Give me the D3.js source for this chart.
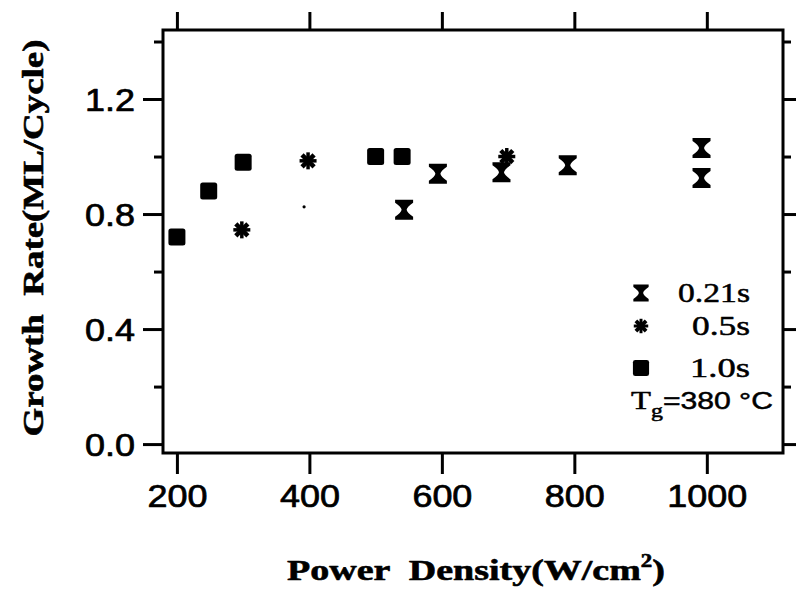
<!DOCTYPE html>
<html><head><meta charset="utf-8">
<script src="https://cdn.jsdelivr.net/npm/d3@7"></script>
<style>body{margin:0;background:#fff}svg{display:block}text{white-space:pre}</style>
</head><body><svg id="c" width="796" height="593"></svg>
<script>
// ---- data ----
const xTicks = [200, 400, 600, 800, 1000];
const xTickLabels = ["200", "400", "600", "800", "1000"];
const yMajor = [0.0, 0.4, 0.8, 1.2];
const yMinor = [0.2, 0.6, 1.0, 1.4];
const yTickLabels = ["0.0", "0.4", "0.8", "1.2"];
const sq_x = [200, 248, 300, 500, 540];          // 1.0s
const sq_y = [0.72, 0.88, 0.98, 1.0, 1.0];
const ast_x = [298, 398, 698];                     // 0.5s
const ast_y = [0.745, 0.985, 1.0];
const hg_x = [543, 594, 690, 790, 992, 992];       // 0.21s
const hg_y = [0.815, 0.94, 0.945, 0.97, 1.03, 0.925];
const speck_x = [392];
const speck_y = [0.825];
const legendLabels = ["0.21s", "0.5s", "1.0s"];
const xTitle = "Power  Density(W/cm";
const yTitle = "Growth  Rate(ML/Cycle)";

const svg = d3.select("#c");
const x = d3.scaleLinear([179, 1115], [163, 783]);
const y = d3.scaleLinear([-0.031, 1.44], [453, 30]);
const [L, R] = x.range(), [B, T] = y.range();

function fit(sel, w) {
  sel.each(function () {
    const len = this.getComputedTextLength();
    const k = w / len;
    const t = d3.select(this).attr("data-t") || "";
    d3.select(this).attr("transform", t + ` scale(${k},1)`);
  });
}
const heavy = (sel, sw) => sel.attr("stroke", "#000").attr("stroke-width", sw).attr("stroke-linejoin", "round");

const tickStyle = g => {
  g.select(".domain").remove();
  g.selectAll(".tick line").attr("stroke", "#000").attr("stroke-width", 3);
};

// bottom axis
const gb = svg.append("g").attr("transform", `translate(0,${B})`)
  .call(d3.axisBottom(x).tickValues(xTicks).tickSize(21).tickFormat((d, i) => xTickLabels[i]))
  .call(tickStyle);
gb.selectAll(".tick text").attr("y", 54).attr("dy", null)
  .attr("font-family", "Liberation Sans, Arial, sans-serif").attr("font-size", 31).attr("fill", "#000")
  .call(heavy, 0.7)
  .each(function () { fit(d3.select(this), this.textContent.length * 20); });

// top axis
svg.append("g").attr("transform", `translate(0,${T})`)
  .call(d3.axisTop(x).tickValues(xTicks).tickSize(18).tickFormat(""))
  .call(tickStyle);

// left axis
const gl = svg.append("g").attr("transform", `translate(${L},0)`)
  .call(d3.axisLeft(y).tickValues(yMajor).tickSize(20).tickFormat((d, i) => yTickLabels[i]))
  .call(tickStyle);
gl.selectAll(".tick text").attr("x", 0).attr("dy", "0.36em").attr("data-t", "translate(-28,0)")
  .attr("font-family", "Liberation Sans, Arial, sans-serif").attr("font-size", 31).attr("fill", "#000")
  .call(heavy, 0.7)
  .call(fit, 50);
svg.append("g").attr("transform", `translate(${L},0)`)
  .call(d3.axisLeft(y).tickValues(yMinor).tickSize(9).tickFormat(""))
  .call(tickStyle);

// right axis
svg.append("g").attr("transform", `translate(${R},0)`)
  .call(d3.axisRight(y).tickValues(yMajor).tickSize(14).tickFormat(""))
  .call(tickStyle);
svg.append("g").attr("transform", `translate(${R},0)`)
  .call(d3.axisRight(y).tickValues(yMinor).tickSize(8).tickFormat(""))
  .call(tickStyle);

// frame
svg.append("rect").attr("x", L).attr("y", T).attr("width", R - L).attr("height", B - T)
  .attr("fill", "none").attr("stroke", "#000").attr("stroke-width", 3);

// marker shapes
const hourglass = "M-9,-10L9,-10L9,-7Q3,-3 2.5,0Q3,3 9,7L9,10L-9,10L-9,7Q-3,3 -2.5,0Q-3,-3 -9,-7Z";
function asterisk(g, r) {
  [0, 45, 90, 135].forEach(a => {
    const rad = a * Math.PI / 180;
    g.append("line").attr("x1", -r * Math.cos(rad)).attr("y1", -r * Math.sin(rad))
      .attr("x2", r * Math.cos(rad)).attr("y2", r * Math.sin(rad))
      .attr("stroke", "#000").attr("stroke-width", a % 90 === 0 ? 3.5 : 4.5);
  });
  g.append("circle").attr("r", 4).attr("fill", "#000");
}
function square(g) {
  g.append("rect").attr("x", -8.5).attr("y", -8.5).attr("width", 17).attr("height", 17)
    .attr("rx", 2.5).attr("fill", "#000");
}

// data marks
svg.append("g").selectAll("g").data(sq_x.map((v, i) => [v, sq_y[i]])).join("g")
  .attr("transform", d => `translate(${x(d[0])},${y(d[1])})`).each(function () { square(d3.select(this)); });
svg.append("g").selectAll("g").data(ast_x.map((v, i) => [v, ast_y[i]])).join("g")
  .attr("transform", d => `translate(${x(d[0])},${y(d[1])})`).each(function () { asterisk(d3.select(this), 8.5); });
svg.append("g").selectAll("path").data(hg_x.map((v, i) => [v, hg_y[i]])).join("path")
  .attr("d", hourglass).attr("fill", "#000")
  .attr("transform", d => `translate(${x(d[0])},${y(d[1])})`);
svg.append("g").selectAll("circle").data(speck_x.map((v, i) => [v, speck_y[i]])).join("circle")
  .attr("cx", d => x(d[0])).attr("cy", d => y(d[1])).attr("r", 1.6).attr("fill", "#000");

// legend
const legY = [293, 326, 368];
const legBase = [302, 335, 377];
const legW = [72, 58, 60];
svg.append("path").attr("d", hourglass).attr("fill", "#000")
  .attr("transform", `translate(641,${legY[0]}) scale(0.85)`);
asterisk(svg.append("g").attr("transform", `translate(641,${legY[1]}) scale(0.85)`), 8.5);
square(svg.append("g").attr("transform", `translate(641,${legY[2]}) scale(0.95)`));
legendLabels.forEach((t, i) => {
  svg.append("text").attr("text-anchor", "end").attr("data-t", `translate(750,${legBase[i]})`)
    .attr("font-family", "Liberation Serif, Times New Roman, serif").attr("font-size", 28)
    .call(heavy, 0.5)
    .text(t).call(fit, legW[i]);
});
const tg = svg.append("text").attr("data-t", "translate(631,409)")
  .attr("font-family", "Liberation Serif, Times New Roman, serif").attr("font-size", 26).call(heavy, 0.5);
tg.append("tspan").text("T");
tg.append("tspan").attr("font-size", 19).attr("dy", 8).text("g");
tg.append("tspan").attr("dy", -8).attr("font-family", "Liberation Sans, Arial, sans-serif")
  .attr("font-size", 24).text("=380 °C");
tg.call(fit, 142);

// axis titles
const xt = svg.append("text").attr("text-anchor", "middle").attr("data-t", "translate(476,580)")
  .attr("font-family", "Liberation Serif, Times New Roman, serif").attr("font-weight", "bold")
  .attr("font-size", 30).call(heavy, 0.6);
xt.append("tspan").text(xTitle);
xt.append("tspan").attr("font-size", 18).attr("dy", -13).text("2");
xt.append("tspan").attr("dy", 13).text(")");
xt.call(fit, 378);

svg.append("text").attr("text-anchor", "middle").attr("data-t", "translate(43,238) rotate(-90)")
  .attr("font-family", "Liberation Serif, Times New Roman, serif").attr("font-weight", "bold")
  .attr("font-size", 30).call(heavy, 0.6).text(yTitle).call(fit, 397);
</script>
</body></html>
